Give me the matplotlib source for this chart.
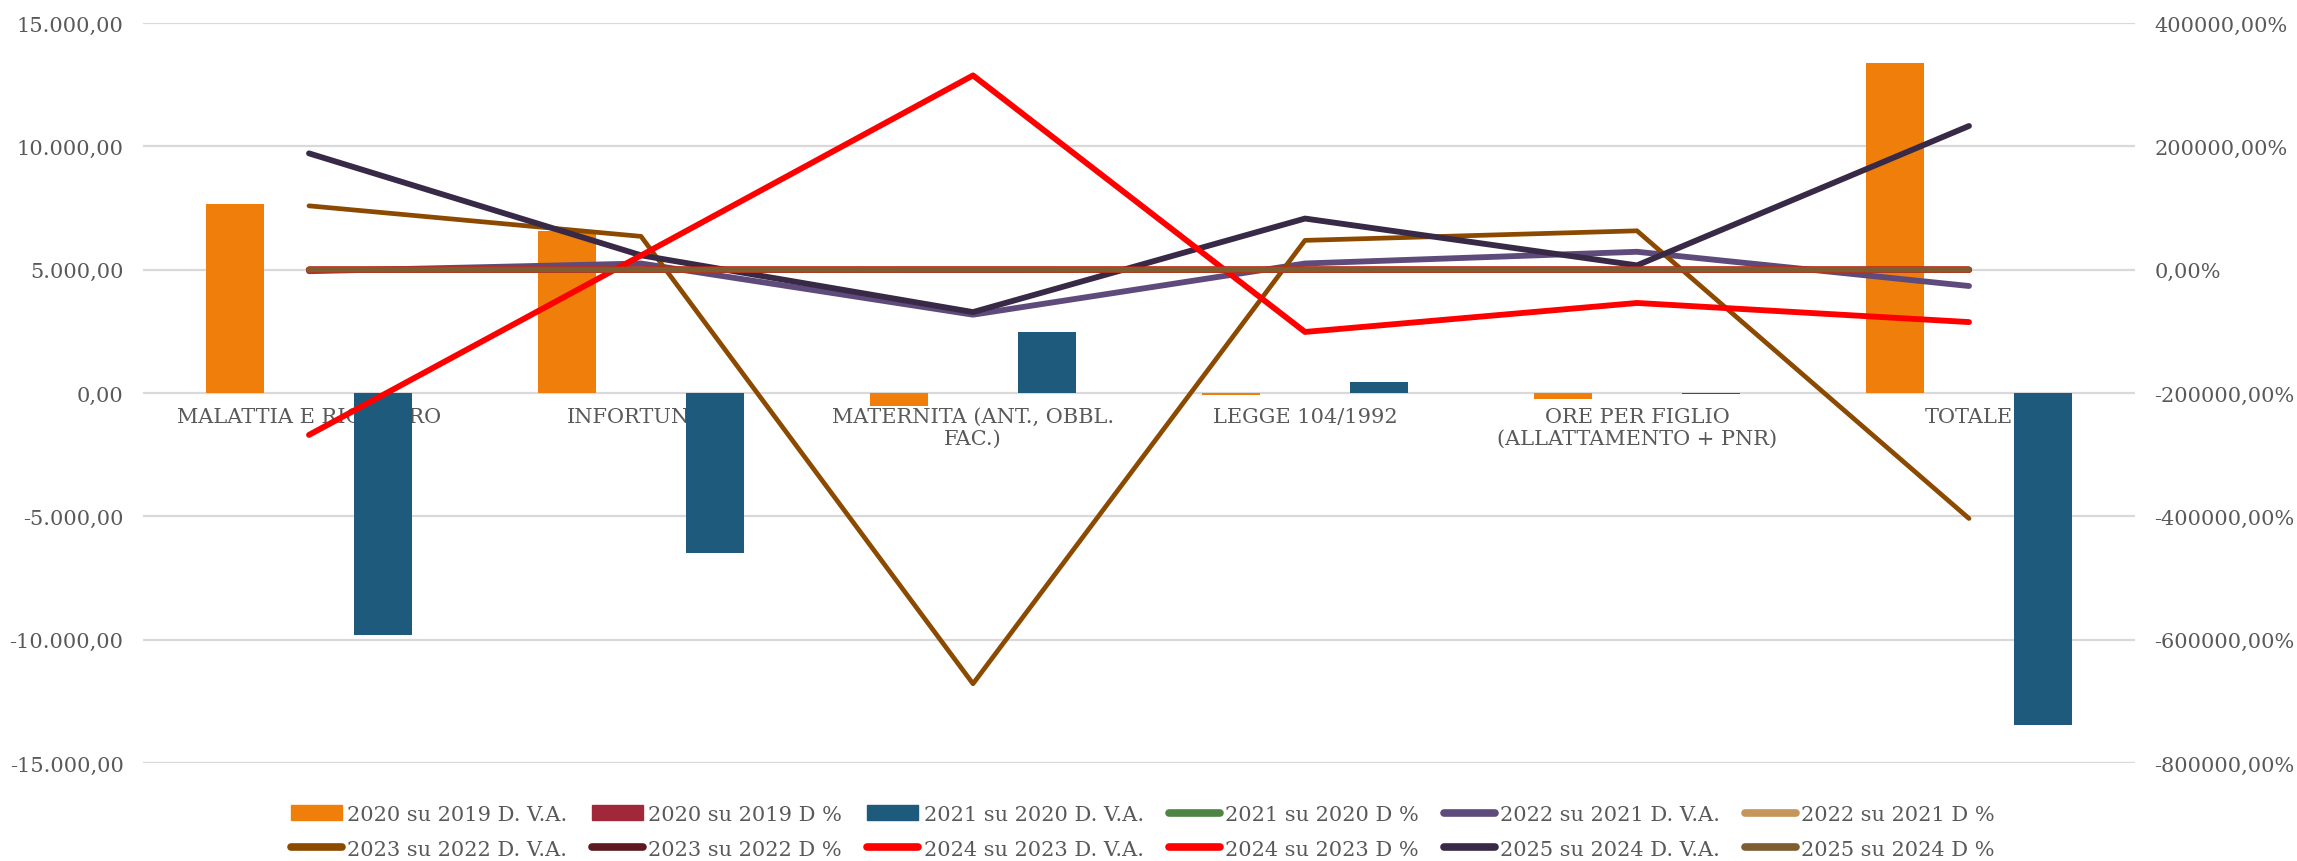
import matplotlib.pyplot as plt
from matplotlib.lines import Line2D
from matplotlib.patches import Patch
from matplotlib.ticker import FuncFormatter, MultipleLocator
import numpy as np

plt.rcParams['font.family'] = ['DejaVu Serif']

categorie = ["MALATTIA E RICOVERO", "INFORTUNIO", "MATERNITA (ANT., OBBL.\nFAC.)",
             "LEGGE 104/1992", "ORE PER FIGLIO\n(ALLATTAMENTO + PNR)", "TOTALE"]

# absolute differences shown as columns (left axis)
dva_2020 = [7660, 6560, -530, -80, -250, 13360]
dva_2021 = [-9810, -6490, 2470, 450, -60, -13440]
dp_2020 = [0.35, 0.42, -0.05, -0.01, -0.03, 0.28]

# lines on the secondary axis
dp_2021 = [-0.33, -0.29, 0.26, 0.07, -0.01, -0.20]
dva_2022 = [-25, 100, -730, 100, 290, -265]
dp_2022 = [0.00, 0.01, -0.06, 0.02, 0.05, 0.00]
dva_2023 = [1035, 540, -6715, 475, 630, -4035]
dp_2023 = [0.05, 0.03, -0.55, 0.09, 0.10, -0.06]
dva_2024 = [-2680, 230, 3150, -1010, -540, -850]
dp_2024 = [-0.13, 0.01, 0.58, -0.17, -0.08, -0.01]
dva_2025 = [1886, 233, -688, 829, 70, 2330]
dp_2025 = [0.10, 0.01, -0.08, 0.18, 0.01, 0.04]

grey = '#595959'
fs = 15

fig = plt.figure(figsize=(22.97, 8.62), dpi=100)
ax = fig.add_axes([143/2297, 1 - 764/862, (2135 - 143)/2297, (764 - 24)/862])
ax2 = ax.twinx()

x = np.arange(len(categorie))
w = 0.175
off = 0.222
ax.bar(x - off, dva_2020, w, color='#EF7F0A', label='2020 su 2019 D. V.A.')
ax.bar(x, dp_2020, w, color='#A0283A', label='2020 su 2019 D %')
ax.bar(x + off, dva_2021, w, color='#1E5A7C', label='2021 su 2020 D. V.A.')

linee = [
    (dp_2021, '#4E8542', 4.2, '2021 su 2020 D %'),
    (dva_2022, '#5F4B7B', 4.2, '2022 su 2021 D. V.A.'),
    (dp_2022, '#C4965A', 4.2, '2022 su 2021 D %'),
    (dva_2023, '#8C4A00', 3.4, '2023 su 2022 D. V.A.'),
    (dp_2023, '#5C1A20', 4.2, '2023 su 2022 D %'),
    (dva_2025, '#382A47', 4.2, '2025 su 2024 D. V.A.'),
    (dva_2024, '#FF0000', 4.2, '2024 su 2023 D. V.A.'),
    (dp_2024, '#FF0000', 4.6, '2024 su 2023 D %'),
    (dp_2025, '#7E5E30', 4.2, '2025 su 2024 D %'),
]
for vals, col, lw, lab in linee:
    ax2.plot(x, vals, color=col, lw=lw, solid_capstyle='round',
             solid_joinstyle='round', label=lab)

ax.set_xlim(-0.5, len(categorie) - 0.5)
ax.set_ylim(-15000, 15000)
ax.yaxis.set_major_locator(MultipleLocator(5000))
ax2.set_ylim(-8000, 4000)
ax2.yaxis.set_major_locator(MultipleLocator(2000))


def fmt_left(v, pos):
    s = f"{v:,.2f}"
    return s.replace(',', 'X').replace('.', ',').replace('X', '.')


def fmt_right(v, pos):
    return f"{v * 100:.2f}%".replace('.', ',')


ax.yaxis.set_major_formatter(FuncFormatter(fmt_left))
ax2.yaxis.set_major_formatter(FuncFormatter(fmt_right))

ax.set_axisbelow(True)
ax.grid(axis='y', color='#D9D9D9', lw=1.6)
ax.set_xticks(x)
ax.set_xticklabels(categorie)
ax.spines['bottom'].set_position(('data', 0))
for a in (ax, ax2):
    for s in a.spines.values():
        s.set_visible(False)
    a.tick_params(length=0, labelsize=fs, labelcolor=grey, pad=14)
ax.tick_params(axis='x', pad=10)

# legend laid out row by row like the original (6 columns x 2 rows)
handles = [
    Patch(color='#EF7F0A'), Patch(color='#A0283A'), Patch(color='#1E5A7C'),
]
labels = ['2020 su 2019 D. V.A.', '2020 su 2019 D %', '2021 su 2020 D. V.A.']
order = ['2021 su 2020 D %', '2022 su 2021 D. V.A.', '2022 su 2021 D %',
         '2023 su 2022 D. V.A.', '2023 su 2022 D %', '2024 su 2023 D. V.A.',
         '2024 su 2023 D %', '2025 su 2024 D. V.A.', '2025 su 2024 D %']
stile = {lab: col for vals, col, lw, lab in linee}
for lab in order:
    handles.append(Line2D([0], [0], color=stile[lab], lw=5.5, solid_capstyle='round'))
    labels.append(lab)

idx = [r * 6 + c for c in range(6) for r in range(2)]
fig.legend([handles[i] for i in idx], [labels[i] for i in idx], ncol=6,
           loc='center', bbox_to_anchor=(0.4975, 0.034), frameon=False,
           fontsize=fs, labelcolor=grey, handlelength=2.45, handletextpad=0.25,
           columnspacing=1.2, labelspacing=0.75, borderpad=0)

fig.savefig('out.png', dpi=100)
